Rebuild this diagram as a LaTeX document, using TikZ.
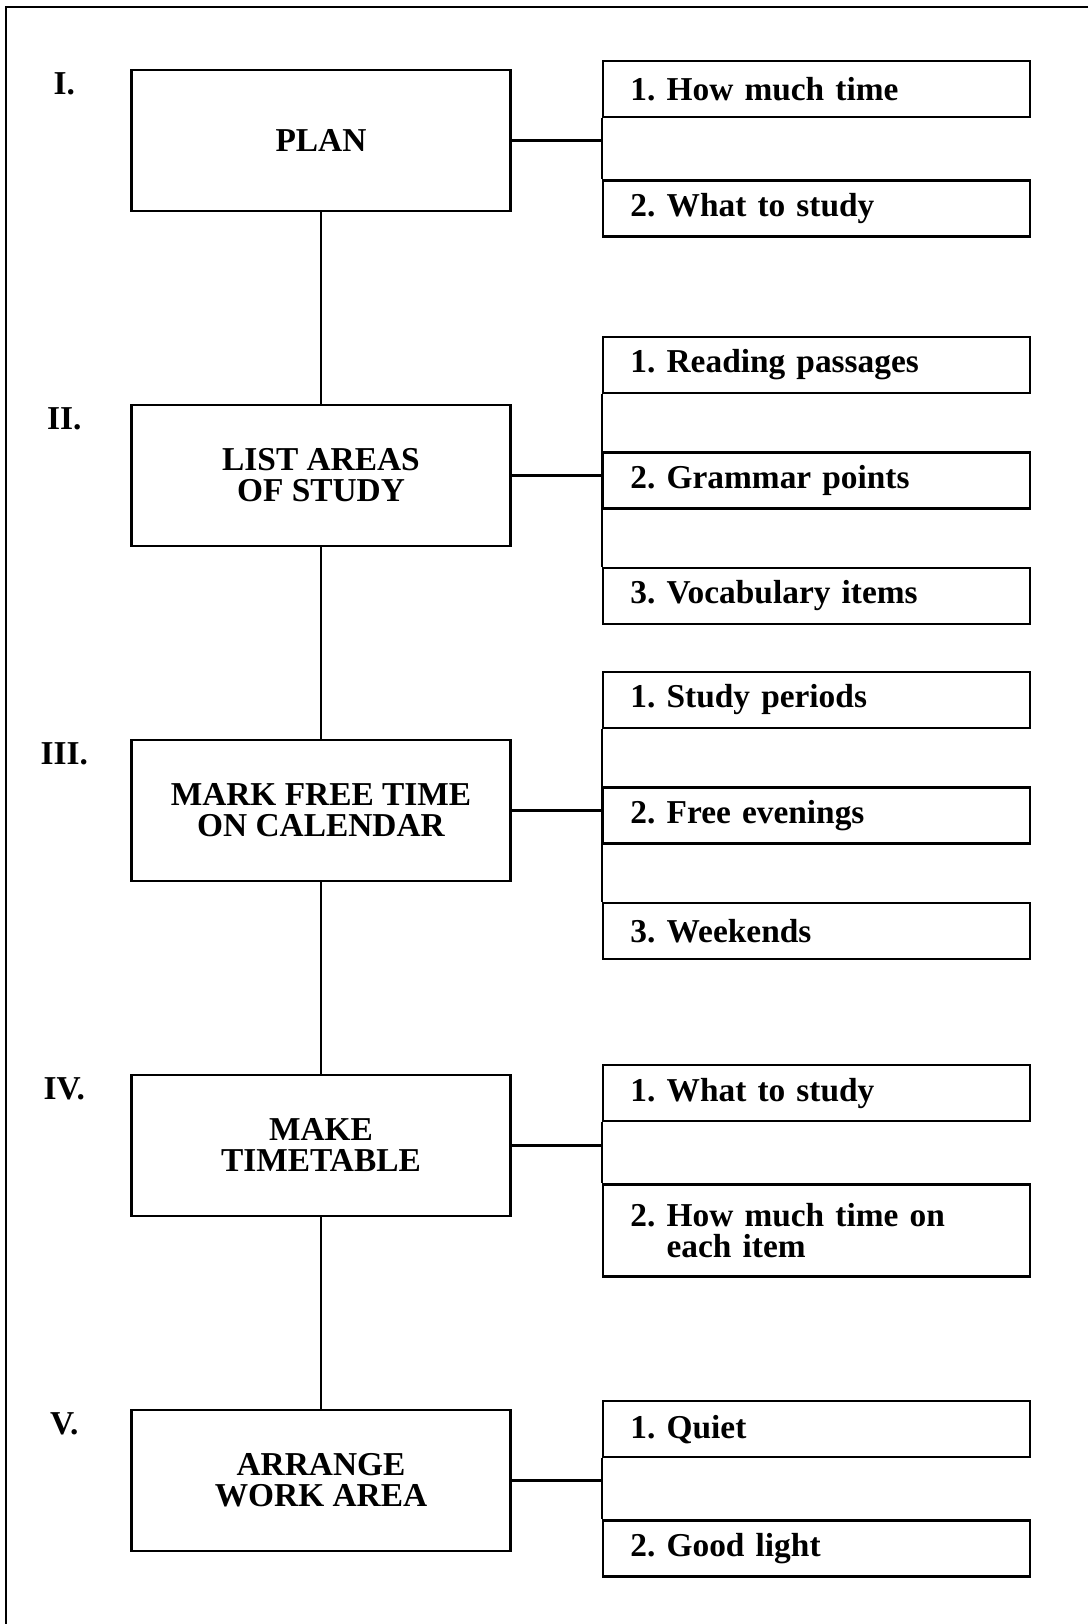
\documentclass[tikz,border=0pt]{standalone}
\usepackage{fontspec}
\setmainfont{Liberation Serif}
\usetikzlibrary{positioning}

\begin{document}
\frenchspacing
\begin{tikzpicture}[
  font=\bfseries\fontsize{19}{17.6}\selectfont,
  stage/.style={draw,line width=1.4pt,align=center,inner sep=0pt,
                minimum width=7.58cm,minimum height=2.82cm},
  item/.style={draw,line width=1.4pt,align=left,text width=7.44cm,
               inner xsep=0.55cm,inner ysep=0pt,minimum height=1.12cm},
  tall/.style={item,minimum height=1.84cm},
  num/.style={inner sep=0pt},
  link/.style={line width=1.3pt}]
  \useasboundingbox (0,0) rectangle (21.76,-32.48);
  % page frame (top and left edge only)
  \draw[line width=1.4pt] (21.76,-0.14) -- (0.12,-0.14) -- (0.12,-32.48);
  % main steps
  \node[stage] (plan) at (6.42,-2.81) {PLAN};
  \node[stage,below=3.83cm of plan] (list) {LIST AREAS\\OF STUDY};
  \node[stage,below=3.83cm of list] (mark) {MARK FREE TIME\\ON CALENDAR};
  \node[stage,below=3.83cm of mark] (make) {MAKE\\TIMETABLE};
  \node[stage,below=3.83cm of make] (arrange) {ARRANGE\\WORK AREA};
  \foreach \s/\n in {plan/I.,list/II.,mark/III.,make/IV.,arrange/V.}
    \node[num] (n-\s) at ([shift={(-1.32,-0.3)}]\s.north west) {\n};
  \draw[link] (plan) -- (list);
  \draw[link] (list) -- (mark);
  \draw[link] (mark) -- (make);
  \draw[link] (make) -- (arrange);
  % I.
  \node[item,above right=0.44cm and 1.8cm of plan.east] (howmuch) {1. How much time};
  \node[item,below=1.22cm of howmuch] (whatto) {2. What to study};
  \draw[link] (howmuch.south west) -- (whatto.north west);
  \draw[link] (plan.east) -- (plan.east -| howmuch.west);
  % II.
  \node[item,right=1.8cm of list,yshift=-0.1cm] (grammar) {2. Grammar points};
  \node[item,above=1.14cm of grammar] (reading) {1. Reading passages};
  \node[item,below=1.14cm of grammar] (vocab) {3. Vocabulary items};
  \draw[link] (reading.south west) -- (vocab.north west);
  \draw[link] (list.east) -- (list.east -| grammar.west);
  % III.
  \node[item,right=1.8cm of mark,yshift=-0.1cm] (evenings) {2. Free evenings};
  \node[item,above=1.14cm of evenings] (periods) {1. Study periods};
  \node[item,below=1.14cm of evenings] (weekends) {3. Weekends};
  \draw[link] (periods.south west) -- (weekends.north west);
  \draw[link] (mark.east) -- (mark.east -| evenings.west);
  % IV.
  \node[item,above right=0.46cm and 1.8cm of make.east] (whatstudy) {1. What to study};
  \node[tall,below=1.22cm of whatstudy] (eachitem) {2. How much time on\\\phantom{2. }each item};
  \draw[link] (whatstudy.south west) -- (eachitem.north west);
  \draw[link] (make.east) -- (make.east -| whatstudy.west);
  % V.
  \node[item,above right=0.44cm and 1.8cm of arrange.east] (quiet) {1. Quiet};
  \node[item,below=1.22cm of quiet] (light) {2. Good light};
  \draw[link] (quiet.south west) -- (light.north west);
  \draw[link] (arrange.east) -- (arrange.east -| quiet.west);
\end{tikzpicture}
\end{document}
